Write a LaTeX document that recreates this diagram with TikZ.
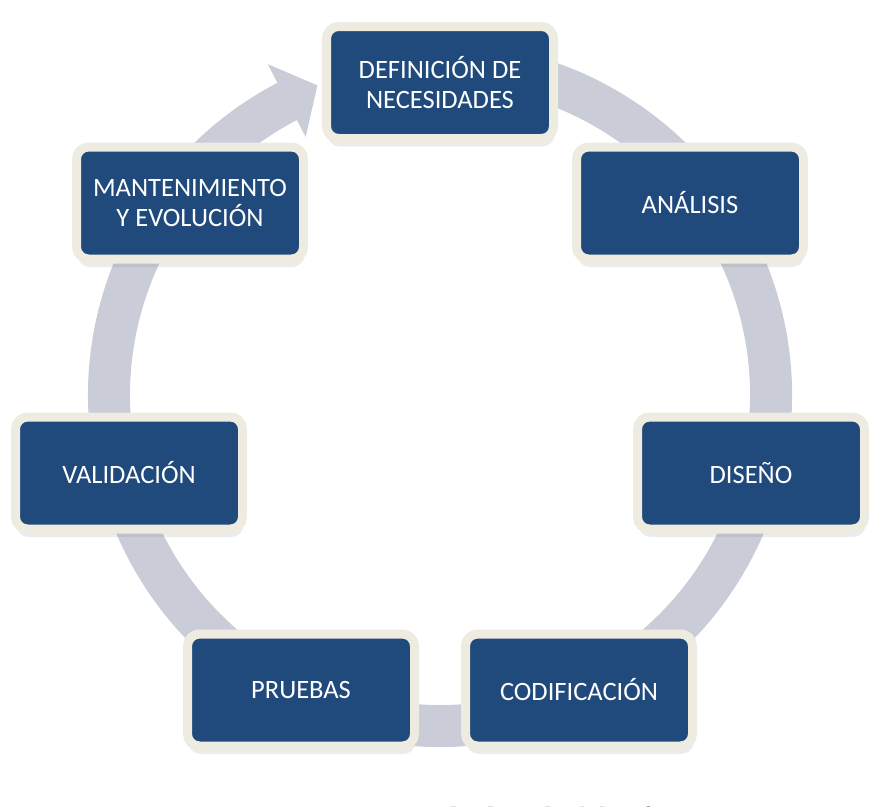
\documentclass[tikz,border=0pt]{standalone}
\usepackage{fontspec}
\setmainfont{Carlito}
\newfontfamily\pie{Liberation Serif}
\usetikzlibrary{shadows}
\definecolor{azul}{HTML}{214A7C}
\definecolor{crema}{HTML}{EEECE1}
\definecolor{anillo}{HTML}{CACDD7}
\tikzset{
  etapa/.style={
      draw=crema,
      fill=azul,
      line width=9pt,
      rounded corners=12pt,
      minimum width=227pt,
      minimum height=112pt,
      inner sep=0pt,
      align=center,
      text=white,
      font=\fontsize{26.5}{30}\selectfont,
      drop shadow={opacity=.15, shadow xshift=1pt, shadow yshift=-8pt}
  },
  flecha/.style={
      fill=anillo
  }
}

\begin{document}
\begin{tikzpicture}[x=1pt,y=1pt]
	\useasboundingbox (0,0) rectangle (890,-806);
	% anillo con punta
	\fill[flecha,shift={(440,-395)}] (105:352)
		arc[start angle=105,end angle=-242.5,radius=352]
		-- (117.5:373) -- (111.6:333) -- (117.5:291) -- (117.5:310)
		arc[start angle=-242.5,end angle=105,radius=310] -- cycle;
	\node[etapa] (definicion) at (440,-82.5) {DEFINICIÓN DE\\NECESIDADES};
	\node[etapa] (analisis) at (690,-203) {ANÁLISIS};
	\node[etapa] (diseno) at (751,-473) {DISEÑO};
	\node[etapa] (codificacion) at (579,-690) {CODIFICACIÓN};
	\node[etapa] (pruebas) at (301,-690) {PRUEBAS};
	\node[etapa] (validacion) at (129,-473) {VALIDACIÓN};
	\node[etapa] (mantenimiento) at (190,-203) {MANTENIMIENTO\\Y EVOLUCIÓN};
	\node[font=\pie\fontsize{29}{34}\selectfont,anchor=base west,inner sep=0pt]
		(pie) at (410,-827) {Ciclo de vida del software};
\end{tikzpicture}
\end{document}
